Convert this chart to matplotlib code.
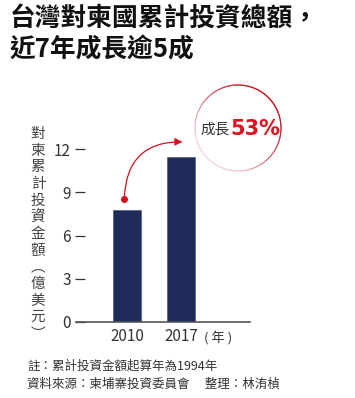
import numpy as np
import matplotlib.pyplot as plt
from matplotlib.patches import FancyArrowPatch

plt.rcParams['font.family'] = ['Noto Sans CJK TC', 'DejaVu Sans']

# data
years = ['2010', '2017']
values = [7.77, 11.44]
yticks = [0, 3, 6, 9, 12]
title = '台灣對柬國累計投資總額，\n近7年成長逾5成'
ylabel = '對柬累計投資金額︵億美元︶'
growth = '53%'
notes = ['註：累計投資金額起算年為1994年',
         '資料來源：柬埔寨投資委員會　 整理：林洧楨']

W, H = 355, 398
fig = plt.figure(figsize=(W / 100, H / 100), dpi=100)
fig.patch.set_facecolor('white')

# axes placed in pixel coordinates
L, R, T, B = 80, 250, 149, 322
ax = fig.add_axes([L / W, 1 - B / H, (R - L) / W, (B - T) / H])
x = np.arange(len(years))
bars = ax.bar(x, values, width=0.52, color='#1e2a57', edgecolor='#5a6488', linewidth=0.6)
ax.set_xlim(-0.87, 2.28)
ax.set_ylim(0, 12)
for s in ['top', 'right', 'left']:
    ax.spines[s].set_visible(False)
ax.spines['bottom'].set_color('#555555')
ax.spines['bottom'].set_linewidth(1.2)
ax.spines['bottom'].set_bounds(-0.95, 2.28)
ax.spines['bottom'].set_clip_on(False)
ax.set_yticks(yticks)
ax.set_yticklabels([str(t) for t in yticks], fontsize=11, color='#333333')
ax.tick_params(axis='y', direction='inout', length=7, width=0.9, color='#333333', pad=3)
ax.set_xticks(x)
ax.set_xticklabels(years, fontsize=11, color='#333333')
ax.tick_params(axis='x', length=0, pad=4)
ax.text(1.43, -1.12, '( 年 )', fontsize=9.5, color='#333333', ha='left', va='center')

# growth arrow from 2010 bar to 2017 bar
p0 = (x[0] - 0.05, values[0] + 0.75)
p1 = (x[1] + 0.08, values[1] + 1.05)
ax.plot(*p0, 'o', color='#d0101e', ms=4, clip_on=False)
arr = FancyArrowPatch(p0, p1, connectionstyle='arc3,rad=-0.5', arrowstyle='-|>',
                      mutation_scale=11, color='#d0101e', lw=0.9, clip_on=False)
ax.add_patch(arr)

# red circle badge (figure pixel coords), fading towards the upper right
cx, cy, r = 238, 128, 43
theta = np.linspace(0, 2 * np.pi, 240)
for i in range(len(theta) - 1):
    a = 0.5 * (theta[i] + theta[i + 1])
    fade = 0.1 + 0.9 * (0.5 - 0.5 * np.cos(a - np.pi / 4 - np.pi)) ** 1.5
    xs = [(cx + r * np.cos(theta[i])) / W, (cx + r * np.cos(theta[i + 1])) / W]
    ys = [1 - (cy - r * np.sin(theta[i])) / H, 1 - (cy - r * np.sin(theta[i + 1])) / H]
    fig.add_artist(plt.Line2D(xs, ys, color='#c8101e', alpha=fade, lw=0.8))
fig.text(200 / W, 1 - 130 / H, '成長', fontsize=10.5, color='#333333', ha='left', va='center')
fig.text(230 / W, 1 - 129 / H, growth, fontsize=15, color='#e0101e', weight='bold',
         ha='left', va='center', family=['DejaVu Sans'])

# title
fig.text(10 / W, 1 - 6 / H, title, fontsize=18.5, weight='bold', color='#111111',
         ha='left', va='top', linespacing=1.15)

# vertical y label
fig.text(38 / W, 1 - 127 / H, '\n'.join(ylabel), fontsize=10.5, color='#444444',
         ha='center', va='top', linespacing=1.24)

# notes
fig.text(27 / W, 1 - 366 / H, notes[0], fontsize=9, color='#333333', ha='left', va='center')
fig.text(27 / W, 1 - 384 / H, notes[1], fontsize=9, color='#333333', ha='left', va='center')

fig.savefig('out.png', dpi=100)
